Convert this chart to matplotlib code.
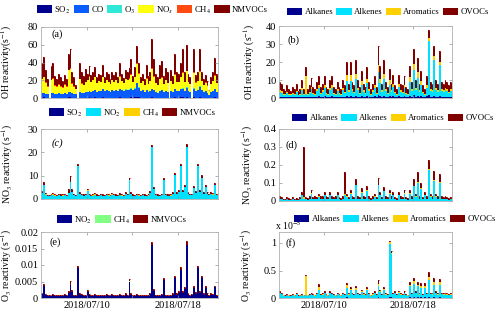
import numpy as np
import matplotlib
matplotlib.use('Agg')
import matplotlib.pyplot as plt
import matplotlib.dates as mdates
from matplotlib.patches import Patch
from matplotlib.ticker import FuncFormatter

plt.rcParams['font.family'] = 'Liberation Serif'
plt.rcParams['mathtext.fontset'] = 'stix'

# 4-hourly values from 2018/07/06 00:00, one row per day
START = np.datetime64('2018-07-06T00:00')
STEP_H = 4

# (a) OH reactivity, s-1
a_so2 = [0.5, 0.6, 0.5, 0.4, 0, 0.5,
         0.5, 0.4, 0.4, 0.5, 0.4, 0.4,
         0.5, 0.4, 0.6, 0.6, 0.5, 0.4,
         0.4, 0, 0.5, 0.5, 0.4, 0.5,
         0.5, 0.6, 0.5, 0.5, 0.6, 0.4,
         0.5, 0.5, 0.6, 0.4, 0.5, 0.5,
         0.4, 0.5, 0.5, 0.5, 0.4, 0.6,
         0.5, 0.4, 0.5, 0.5, 0.5, 0.6,
         0.5, 0.6, 0.8, 0.6, 0.4, 0.5,
         0.4, 0.5, 0.4, 0.5, 0.6, 0.5,
         0.4, 0.4, 0.5, 0.5, 0.4, 0.5,
         0.4, 0, 0.5, 0.4, 0.6, 0.5,
         0.5, 0.6, 0.7, 0.5, 0.7, 0.5,
         0.4, 0, 0.7, 0.5, 0.5, 0.7,
         0.5, 0.4, 0.5, 0.4, 0.3, 0.4,
         0.5, 0.6, 0.4]
a_co = [5, 5, 4, 4, 0, 5,
        5, 4, 4, 5, 4, 4,
        5, 4, 6, 6, 5, 4,
        4, 0, 6, 5, 5, 6,
        6, 7, 6, 7, 8, 6,
        7, 7, 9, 7, 8, 7,
        6, 8, 7, 8, 7, 9,
        8, 7, 9, 8, 9, 10,
        8, 10, 16, 11, 7, 8,
        6, 8, 6, 7, 9, 8,
        6, 5, 7, 8, 6, 7,
        6, 0, 7, 6, 9, 7,
        7, 9, 10, 7, 11, 7,
        6, 0, 10, 7, 8, 12,
        8, 6, 7, 5, 3, 6,
        7, 9, 6]
a_o3 = [0.4, 0.5, 0.4, 0.3, 0, 0.4,
        0.4, 0.3, 0.3, 0.4, 0.3, 0.3,
        0.4, 0.3, 0.5, 0.5, 0.4, 0.3,
        0.3, 0, 0.4, 0.4, 0.3, 0.4,
        0.4, 0.5, 0.4, 0.4, 0.5, 0.3,
        0.4, 0.4, 0.5, 0.3, 0.4, 0.4,
        0.3, 0.4, 0.4, 0.4, 0.3, 0.5,
        0.4, 0.3, 0.4, 0.4, 0.4, 0.5,
        0.4, 0.5, 0.6, 0.5, 0.3, 0.4,
        0.3, 0.4, 0.3, 0.4, 0.5, 0.4,
        0.3, 0.3, 0.4, 0.4, 0.3, 0.4,
        0.3, 0, 0.4, 0.3, 0.5, 0.4,
        0.4, 0.5, 0.5, 0.4, 0.5, 0.4,
        0.3, 0, 0.5, 0.4, 0.4, 0.5,
        0.4, 0.3, 0.4, 0.3, 0.2, 0.3,
        0.4, 0.5, 0.3]
a_nox = [15, 17, 12, 8, 0, 14,
         16, 9, 8, 9, 8, 7,
         9, 8, 24, 26, 10, 8,
         5, 0, 14, 10, 9, 11,
         13, 16, 11, 12, 14, 10,
         11, 10, 13, 9, 11, 10,
         9, 11, 10, 11, 9, 14,
         10, 9, 11, 11, 12, 15,
         9, 12, 21, 15, 9, 10,
         8, 13, 9, 11, 23, 15,
         10, 9, 13, 14, 9, 12,
         10, 0, 11, 9, 16, 10,
         10, 13, 17, 10, 18, 10,
         9, 0, 17, 9, 10, 16,
         10, 8, 9, 8, 5, 9,
         11, 15, 10]
a_ch4 = [0.6, 0.7, 0.6, 0.5, 0, 0.6,
         0.6, 0.5, 0.5, 0.6, 0.5, 0.5,
         0.6, 0.5, 0.7, 0.7, 0.6, 0.5,
         0.5, 0, 0.6, 0.6, 0.5, 0.6,
         0.6, 0.7, 0.6, 0.6, 0.7, 0.5,
         0.6, 0.6, 0.7, 0.5, 0.6, 0.6,
         0.5, 0.6, 0.6, 0.6, 0.5, 0.7,
         0.6, 0.5, 0.6, 0.6, 0.6, 0.7,
         0.6, 0.7, 0.8, 0.7, 0.5, 0.6,
         0.5, 0.6, 0.5, 0.6, 0.7, 0.6,
         0.5, 0.5, 0.6, 0.6, 0.5, 0.6,
         0.5, 0, 0.6, 0.5, 0.7, 0.6,
         0.6, 0.7, 0.7, 0.6, 0.7, 0.6,
         0.5, 0, 0.7, 0.6, 0.6, 0.7,
         0.6, 0.5, 0.6, 0.5, 0.4, 0.5,
         0.6, 0.7, 0.5]
a_nmvoc = [18, 22, 14, 8, 0, 15,
           17, 11, 8, 11, 10, 7,
           10, 8, 18, 21, 13, 10,
           5, 0, 18, 13, 10, 14,
           7, 11, 7, 9, 11, 6,
           8, 7, 13, 6, 9, 8,
           5, 9, 7, 9, 7, 15,
           7, 5, 10, 9, 11, 17,
           6, 11, 19, 12, 6, 8,
           6, 15, 9, 10, 33, 20,
           10, 8, 16, 18, 9, 13,
           12, 0, 12, 9, 23, 11,
           9, 16, 26, 11, 29, 9,
           7, 0, 26, 8, 10, 25,
           10, 6, 8, 5, 0.5, 7,
           10, 19, 10]

# (b) OH reactivity of VOC groups, s-1
b_alkanes = [0.8, 0.7, 0.5, 0.5, 0.6, 0.5,
             0.5, 0.6, 0.5, 0.7, 0.4, 0.5,
             0.8, 0.5, 0.6, 0.5, 0.6, 0.8,
             0.5, 0.5, 0.7, 0.9, 0.5, 0.7,
             0.9, 0.5, 0.5, 0.8, 0.9, 0.5,
             0.5, 0.7, 0.5, 0.5, 0.8, 0.6,
             1.2, 0.7, 1.2, 0.7, 0.6, 1.3,
             0.8, 0.5, 1.0, 0.7, 0.5, 1.1,
             0.7, 0.5, 0.7, 0.9, 0.5, 1.5,
             1.1, 0.7, 1.3, 0.7, 0.5, 1.0,
             0.7, 0.9, 0.6, 0.5, 0.9, 0.7,
             0.6, 0.9, 0.5, 0.5, 1.1, 0.7,
             1.4, 0.8, 1.3, 0.7, 1.0, 0.6,
             0.5, 0.9, 1.5, 0.7, 0.7, 1.2,
             0.8, 0.7, 1.1, 0.7, 0.7, 0.8,
             0.7, 0.6, 0.7]
b_alkenes = [2.5, 2, 1.2, 1, 2, 1.3,
             1, 1.6, 1.2, 2.4, 1, 1.3,
             3.5, 1.2, 1.8, 1.2, 2, 4,
             1.6, 1.2, 3, 4.5, 1.6, 2.5,
             4.5, 1.6, 1.2, 3.5, 4.5, 1.6,
             1.2, 3, 1.6, 1.2, 3.5, 2,
             8, 2.5, 8.5, 3, 2, 9,
             3.5, 1.6, 6, 2.5, 1.6, 7,
             3, 1.2, 2.5, 4.5, 1.6, 13,
             7, 2.5, 9, 3, 1.6, 6.5,
             2.5, 5, 2, 1.2, 5, 2.5,
             2, 4.5, 1.6, 1.2, 8, 3,
             14, 3.5, 10, 2.5, 6, 2,
             1.2, 4.5, 30, 3, 2.5, 20,
             3.5, 2.5, 17, 3, 2.5, 3.5,
             3, 2, 3]
b_aromatics = [1.2, 1, 0.7, 0.5, 0.9, 0.7,
               0.5, 0.8, 0.7, 1, 0.5, 0.6,
               1.5, 0.7, 10, 0.7, 1, 1.5,
               0.8, 0.7, 1.3, 1.8, 0.8, 1.1,
               1.8, 0.8, 0.7, 1.5, 1.8, 0.8,
               0.7, 1.3, 0.8, 0.7, 1.5, 1,
               3.5, 1.1, 3, 1.3, 1, 3,
               1.5, 0.8, 2.2, 1.1, 0.8, 2.5,
               1.3, 0.7, 1.1, 1.8, 0.8, 4,
               2.6, 1.1, 3, 1.3, 0.8, 2.3,
               1.1, 2, 1, 0.7, 2, 1.1,
               1, 1.8, 0.8, 0.7, 2.4, 1.3,
               3.5, 1.5, 3, 1.1, 2.2, 1,
               0.7, 1.8, 2, 1.3, 1.1, 2,
               1.5, 1.1, 2, 1.3, 1.1, 1.5,
               1.3, 1, 1.3]
b_ovocs = [4.5, 4.3, 2.6, 2, 3.5, 2.5,
           2, 3, 2.6, 3.9, 2.1, 2.6,
           4.2, 2.6, 4.6, 2.6, 3.4, 4.7,
           3.1, 2.6, 4, 4.8, 3.1, 3.7,
           4.8, 3.1, 2.6, 4.2, 4.8, 3.1,
           2.6, 4, 3.1, 2.6, 4.2, 3.4,
           7.3, 3.7, 7.3, 4, 3.4, 7.7,
           4.2, 3.1, 5.8, 3.7, 3.1, 6.4,
           4, 2.6, 3.7, 4.8, 3.1, 10.5,
           7.3, 3.7, 7.7, 4, 3.1, 6.2,
           3.7, 5.1, 3.4, 2.6, 5.1, 3.7,
           3.4, 4.8, 3.1, 2.6, 6.5, 4,
           8.1, 4.2, 7.7, 3.7, 5.8, 3.4,
           2.6, 4.8, 4.5, 4, 3.7, 5.8,
           4.2, 3.7, 5.9, 4, 3.7, 4.2,
           4, 3.4, 4]

# (c) NO3 reactivity, s-1
c_so2 = [0.1, 0.15, 0.1, 0.1, 0.1, 0.1,
         0.1, 0.1, 0.1, 0.1, 0.1, 0.1,
         0.1, 0.1, 0.1, 0.15, 0.1, 0.1,
         0.1, 0.15, 0.1, 0.1, 0.1, 0.1,
         0.1, 0.1, 0.1, 0.1, 0.1, 0.1,
         0.1, 0.1, 0.1, 0.1, 0.1, 0.1,
         0.1, 0.1, 0.1, 0.1, 0.1, 0.1,
         0.1, 0.1, 0.1, 0.1, 0.15, 0.1,
         0.1, 0.1, 0.1, 0.1, 0.1, 0.1,
         0.1, 0.1, 0.1, 0.1, 0.2, 0.1,
         0.1, 0.1, 0.1, 0.1, 0.15, 0.1,
         0.1, 0.1, 0.1, 0.1, 0.15, 0.1,
         0.1, 0.15, 0.1, 0.1, 0.2, 0.1,
         0.1, 0.1, 0.1, 0.1, 0.15, 0.1,
         0.15, 0.1, 0.1, 0.1, 0.1, 0.1,
         0.1, 0.1, 0.1]
c_no2 = [2.5, 6, 1.8, 1.2, 1.0, 1.5,
         1.8, 1.4, 1.2, 1.5, 1.3, 1.4,
         1.6, 1.2, 2.5, 7, 3, 1.5,
         1.2, 14, 2, 1.6, 1.3, 1.5,
         3.5, 1.6, 1.2, 1.4, 1.8, 1.3,
         1.2, 1.5, 1.3, 1.2, 1.6, 1.4,
         1.2, 1.8, 1.5, 1.3, 1.2, 1.6,
         1.4, 1.2, 2, 1.5, 8, 2,
         1.3, 1.2, 1.6, 1.4, 1.2, 1.5,
         1.3, 1.2, 1.4, 2.5, 22, 4,
         1.5, 1.3, 1.2, 1.6, 8, 1.5,
         1.3, 1.3, 1.4, 2, 10, 2,
         3, 14, 3, 5, 22, 2,
         1.5, 1.6, 4.5, 2.5, 14, 3,
         9, 2, 5, 2, 1.5, 2,
         1.8, 6, 1.5]
c_ch4 = [0.05, 0.05, 0.05, 0.04, 0.04, 0.05,
         0.05, 0.05, 0.04, 0.05, 0.04, 0.05,
         0.05, 0.04, 0.05, 0.05, 0.05, 0.05,
         0.04, 0.05, 0.05, 0.05, 0.04, 0.05,
         0.05, 0.05, 0.04, 0.05, 0.05, 0.04,
         0.04, 0.05, 0.04, 0.04, 0.05, 0.05,
         0.04, 0.05, 0.05, 0.04, 0.04, 0.05,
         0.05, 0.04, 0.05, 0.05, 0.05, 0.05,
         0.04, 0.04, 0.05, 0.05, 0.04, 0.05,
         0.04, 0.04, 0.05, 0.05, 0.05, 0.05,
         0.05, 0.04, 0.04, 0.05, 0.05, 0.05,
         0.04, 0.04, 0.05, 0.05, 0.05, 0.05,
         0.05, 0.05, 0.05, 0.05, 0.05, 0.05,
         0.04, 0.05, 0.05, 0.05, 0.05, 0.05,
         0.05, 0.05, 0.05, 0.05, 0.04, 0.05,
         0.05, 0.05, 0.04]
c_nmvoc = [0.8, 1, 0.6, 0.5, 0.5, 0.6,
           0.7, 0.6, 0.5, 0.6, 0.5, 0.6,
           0.6, 0.5, 1.5, 2.5, 1.2, 0.6,
           0.5, 0.6, 0.7, 0.6, 0.5, 0.6,
           0.8, 0.6, 0.5, 0.6, 0.7, 0.5,
           0.5, 0.6, 0.5, 0.5, 0.6, 0.6,
           0.5, 0.7, 0.6, 0.5, 0.5, 0.7,
           0.6, 0.5, 0.7, 0.6, 0.8, 0.7,
           0.5, 0.5, 0.6, 0.6, 0.5, 0.6,
           0.5, 0.5, 0.6, 0.8, 1, 0.8,
           0.6, 0.5, 0.5, 0.6, 0.8, 0.6,
           0.5, 0.5, 0.6, 0.7, 1, 0.7,
           0.8, 1, 0.8, 0.9, 1.2, 0.7,
           0.6, 0.6, 1, 0.8, 1, 0.8,
           1, 0.7, 0.9, 0.7, 0.6, 0.7,
           0.6, 0.8, 0.6]

# (d) NO3 reactivity of VOC groups, s-1
d_alkanes = [0.0006, 0.0005, 0.0003, 0.0003, 0.0005, 0.0004,
             0.0003, 0.0005, 0.0003, 0.0004, 0.0003, 0.0005,
             0.0008, 0.002, 0.0005, 0.0004, 0.0006, 0.001,
             0.0005, 0.0005, 0.0005, 0.0007, 0.0005, 0.0006,
             0.0008, 0.0005, 0.0005, 0.0008, 0.0006, 0.0005,
             0.0005, 0.0008, 0.0005, 0.0004, 0.0006, 0.002,
             0.0007, 0.0005, 0.0009, 0.0006, 0.0005, 0.0015,
             0.0006, 0.0005, 0.001, 0.0006, 0.0005, 0.0012,
             0.0006, 0.0004, 0.0006, 0.0007, 0.0005, 0.0015,
             0.0008, 0.0005, 0.0012, 0.0006, 0.0005, 0.0009,
             0.0006, 0.0008, 0.0005, 0.0004, 0.0008, 0.0006,
             0.0005, 0.0009, 0.0005, 0.0004, 0.0009, 0.0006,
             0.0015, 0.0007, 0.002, 0.0006, 0.0012, 0.0005,
             0.0008, 0.0006, 0.0025, 0.0007, 0.0006, 0.002,
             0.0007, 0.0006, 0.002, 0.0006, 0.0005, 0.0006,
             0.0005, 0.0004, 0.0005]
d_alkenes = [0.012, 0.008, 0.005, 0.004, 0.008, 0.006,
             0.005, 0.008, 0.004, 0.006, 0.005, 0.008,
             0.03, 0.01, 0.008, 0.006, 0.012, 0.038,
             0.008, 0.01, 0.008, 0.024, 0.01, 0.012,
             0.032, 0.01, 0.008, 0.032, 0.012, 0.008,
             0.01, 0.032, 0.008, 0.006, 0.012, 0.03,
             0.024, 0.008, 0.039, 0.012, 0.008, 0.085,
             0.012, 0.008, 0.046, 0.012, 0.008, 0.055,
             0.012, 0.006, 0.012, 0.024, 0.008, 0.085,
             0.032, 0.008, 0.052, 0.012, 0.008, 0.039,
             0.012, 0.032, 0.008, 0.006, 0.032, 0.012,
             0.008, 0.039, 0.008, 0.006, 0.039, 0.012,
             0.08, 0.024, 0.1, 0.012, 0.065, 0.008,
             0.032, 0.012, 0.17, 0.024, 0.012, 0.11,
             0.024, 0.012, 0.1, 0.012, 0.008, 0.012,
             0.008, 0.006, 0.008]
d_aromatics = [0.001, 0.0008, 0.0005, 0.0004, 0.0008, 0.0006,
               0.0005, 0.0008, 0.0004, 0.0006, 0.0005, 0.0008,
               0.002, 0.008, 0.0008, 0.0006, 0.001, 0.003,
               0.0008, 0.001, 0.0008, 0.002, 0.001, 0.001,
               0.002, 0.001, 0.0008, 0.002, 0.001, 0.0008,
               0.001, 0.002, 0.0008, 0.0006, 0.001, 0.008,
               0.002, 0.0008, 0.003, 0.001, 0.0008, 0.004,
               0.001, 0.0008, 0.003, 0.001, 0.0008, 0.003,
               0.001, 0.0006, 0.001, 0.002, 0.0008, 0.004,
               0.002, 0.0008, 0.003, 0.001, 0.0008, 0.002,
               0.001, 0.002, 0.0008, 0.0006, 0.002, 0.001,
               0.0008, 0.002, 0.0008, 0.0006, 0.002, 0.001,
               0.004, 0.002, 0.006, 0.001, 0.004, 0.0008,
               0.002, 0.001, 0.008, 0.002, 0.001, 0.006,
               0.002, 0.001, 0.005, 0.001, 0.0008, 0.001,
               0.0008, 0.0006, 0.0008]
d_ovocs = [0.016, 0.011, 0.006, 0.005, 0.011, 0.008,
           0.006, 0.011, 0.005, 0.008, 0.006, 0.011,
           0.017, 0.28, 0.011, 0.008, 0.016, 0.018,
           0.011, 0.014, 0.011, 0.014, 0.014, 0.016,
           0.015, 0.014, 0.011, 0.015, 0.016, 0.011,
           0.014, 0.015, 0.011, 0.008, 0.016, 0.12,
           0.014, 0.011, 0.018, 0.016, 0.011, 0.03,
           0.016, 0.011, 0.021, 0.016, 0.011, 0.022,
           0.016, 0.008, 0.016, 0.014, 0.011, 0.04,
           0.015, 0.011, 0.024, 0.016, 0.011, 0.018,
           0.016, 0.015, 0.011, 0.008, 0.015, 0.016,
           0.011, 0.018, 0.011, 0.008, 0.018, 0.016,
           0.035, 0.014, 0.052, 0.016, 0.03, 0.011,
           0.015, 0.016, 0.05, 0.014, 0.016, 0.05,
           0.014, 0.016, 0.045, 0.016, 0.011, 0.016,
           0.011, 0.008, 0.011]

# (e) O3 reactivity, s-1
e_no2 = [0.0012, 0.0035, 0.0008, 0.0006, 0.0005, 0.0007,
         0.0008, 0.0007, 0.0006, 0.0007, 0.0006, 0.0007,
         0.0008, 0.0006, 0.0015, 0.004, 0.0018, 0.0007,
         0.0006, 0.0092, 0.001, 0.0008, 0.0006, 0.0007,
         0.0018, 0.0008, 0.0006, 0.0007, 0.0009, 0.0006,
         0.0006, 0.0007, 0.0006, 0.0006, 0.0008, 0.0007,
         0.0006, 0.0009, 0.0007, 0.0006, 0.0006, 0.0008,
         0.0007, 0.0006, 0.001, 0.0007, 0.005, 0.001,
         0.0006, 0.0006, 0.0008, 0.0007, 0.0006, 0.0007,
         0.0006, 0.0006, 0.0007, 0.0012, 0.016, 0.0022,
         0.0007, 0.0006, 0.0006, 0.0008, 0.0055, 0.0007,
         0.0006, 0.0006, 0.0007, 0.001, 0.006, 0.001,
         0.0015, 0.0085, 0.0015, 0.0028, 0.016, 0.001,
         0.0007, 0.0008, 0.003, 0.0013, 0.009, 0.0015,
         0.006, 0.001, 0.003, 0.001, 0.0007, 0.001,
         0.0009, 0.0032, 0.0007]
e_ch4 = [0.00003, 0.00003, 0.00002, 0.00002, 0.00002, 0.00003,
         0.00003, 0.00002, 0.00002, 0.00003, 0.00002, 0.00002,
         0.00003, 0.00002, 0.00003, 0.00003, 0.00003, 0.00002,
         0.00002, 0.00003, 0.00003, 0.00003, 0.00002, 0.00003,
         0.00003, 0.00003, 0.00002, 0.00003, 0.00003, 0.00002,
         0.00002, 0.00003, 0.00002, 0.00002, 0.00003, 0.00003,
         0.00002, 0.00003, 0.00003, 0.00002, 0.00002, 0.00003,
         0.00003, 0.00002, 0.00003, 0.00003, 0.00003, 0.00003,
         0.00002, 0.00002, 0.00003, 0.00003, 0.00002, 0.00003,
         0.00002, 0.00002, 0.00003, 0.00003, 0.00003, 0.00003,
         0.00003, 0.00002, 0.00002, 0.00003, 0.00003, 0.00003,
         0.00002, 0.00002, 0.00003, 0.00003, 0.00003, 0.00003,
         0.00003, 0.00003, 0.00003, 0.00003, 0.00003, 0.00003,
         0.00002, 0.00003, 0.00003, 0.00003, 0.00003, 0.00003,
         0.00003, 0.00003, 0.00003, 0.00003, 0.00002, 0.00003,
         0.00003, 0.00003, 0.00002]
e_nmvoc = [0.0004, 0.0006, 0.0003, 0.0003, 0.0003, 0.0003,
           0.0004, 0.0003, 0.0003, 0.0003, 0.0003, 0.0003,
           0.0003, 0.0003, 0.0007, 0.001, 0.0006, 0.0003,
           0.0003, 0.0005, 0.0004, 0.0003, 0.0003, 0.0003,
           0.0005, 0.0003, 0.0003, 0.0003, 0.0004, 0.0003,
           0.0003, 0.0003, 0.0003, 0.0003, 0.0003, 0.0003,
           0.0003, 0.0004, 0.0003, 0.0003, 0.0003, 0.0004,
           0.0003, 0.0003, 0.0004, 0.0003, 0.0006, 0.0004,
           0.0003, 0.0003, 0.0003, 0.0003, 0.0003, 0.0003,
           0.0003, 0.0003, 0.0003, 0.0004, 0.001, 0.0006,
           0.0003, 0.0003, 0.0003, 0.0003, 0.0006, 0.0003,
           0.0003, 0.0003, 0.0003, 0.0004, 0.0007, 0.0004,
           0.0005, 0.0008, 0.0005, 0.0006, 0.0012, 0.0004,
           0.0003, 0.0003, 0.0005, 0.0004, 0.0008, 0.0005,
           0.0007, 0.0004, 0.0005, 0.0004, 0.0003, 0.0004,
           0.0003, 0.0005, 0.0003]

# (f) O3 reactivity of VOC groups, 1e-5 s-1
f_alkanes = [0.005, 0.004, 0.003, 0.002, 0.003, 0.003,
             0.002, 0.003, 0.003, 0.004, 0.002, 0.003,
             0.003, 0.003, 0.008, 0.003, 0.003, 0.004,
             0.003, 0.003, 0.004, 0.008, 0.003, 0.004,
             0.005, 0.003, 0.003, 0.005, 0.004, 0.003,
             0.003, 0.004, 0.003, 0.003, 0.004, 0.003,
             0.01, 0.004, 0.008, 0.004, 0.003, 0.009,
             0.004, 0.003, 0.006, 0.004, 0.003, 0.008,
             0.004, 0.003, 0.004, 0.005, 0.003, 0.012,
             0.006, 0.003, 0.008, 0.004, 0.003, 0.02,
             0.015, 0.004, 0.005, 0.003, 0.005, 0.004,
             0.003, 0.005, 0.003, 0.003, 0.01, 0.004,
             0.012, 0.005, 0.01, 0.004, 0.01, 0.003,
             0.01, 0.004, 0.015, 0.004, 0.004, 0.012,
             0.005, 0.004, 0.012, 0.004, 0.004, 0.004,
             0.004, 0.003, 0.004]
f_alkenes = [0.08, 0.065, 0.04, 0.032, 0.052, 0.04,
             0.032, 0.045, 0.04, 0.065, 0.032, 0.04,
             0.052, 0.04, 0.05, 0.04, 0.045, 0.065,
             0.045, 0.04, 0.065, 0.14, 0.045, 0.058,
             0.08, 0.045, 0.04, 0.08, 0.065, 0.045,
             0.04, 0.065, 0.045, 0.04, 0.065, 0.052,
             0.18, 0.058, 0.13, 0.065, 0.052, 0.14,
             0.065, 0.045, 0.1, 0.058, 0.045, 0.13,
             0.065, 0.04, 0.058, 0.08, 0.045, 0.21,
             0.1, 0.052, 0.13, 0.058, 0.045, 0.96,
             0.79, 0.065, 0.08, 0.045, 0.085, 0.058,
             0.052, 0.08, 0.045, 0.04, 0.2, 0.065,
             0.24, 0.08, 0.2, 0.058, 0.18, 0.052,
             0.18, 0.065, 0.31, 0.065, 0.058, 0.23,
             0.08, 0.058, 0.23, 0.065, 0.058, 0.065,
             0.058, 0.045, 0.058]
f_aromatics = [0.01, 0.01, 0.006, 0.005, 0.008, 0.006,
               0.005, 0.007, 0.006, 0.01, 0.005, 0.006,
               0.008, 0.006, 0.34, 0.006, 0.007, 0.01,
               0.007, 0.006, 0.01, 0.05, 0.007, 0.009,
               0.01, 0.007, 0.006, 0.01, 0.01, 0.007,
               0.006, 0.01, 0.007, 0.006, 0.01, 0.008,
               0.04, 0.009, 0.02, 0.01, 0.008, 0.025,
               0.01, 0.007, 0.015, 0.009, 0.007, 0.02,
               0.01, 0.006, 0.009, 0.01, 0.007, 0.04,
               0.015, 0.008, 0.02, 0.009, 0.007, 0.03,
               0.02, 0.01, 0.01, 0.007, 0.013, 0.009,
               0.008, 0.01, 0.007, 0.006, 0.03, 0.01,
               0.05, 0.01, 0.03, 0.009, 0.035, 0.008,
               0.03, 0.01, 0.05, 0.01, 0.009, 0.05,
               0.01, 0.009, 0.04, 0.01, 0.009, 0.01,
               0.009, 0.007, 0.009]
f_ovocs = [0.025, 0.02, 0.012, 0.01, 0.016, 0.012,
           0.01, 0.014, 0.012, 0.02, 0.01, 0.012,
           0.016, 0.012, 0.02, 0.012, 0.014, 0.02,
           0.014, 0.012, 0.02, 0.05, 0.014, 0.018,
           0.025, 0.014, 0.012, 0.025, 0.02, 0.014,
           0.012, 0.02, 0.014, 0.012, 0.02, 0.016,
           0.05, 0.018, 0.04, 0.02, 0.016, 0.045,
           0.02, 0.014, 0.03, 0.018, 0.014, 0.04,
           0.02, 0.012, 0.018, 0.025, 0.014, 0.06,
           0.03, 0.016, 0.04, 0.018, 0.014, 0.03,
           0.03, 0.02, 0.025, 0.014, 0.026, 0.018,
           0.016, 0.025, 0.014, 0.012, 0.06, 0.02,
           0.07, 0.025, 0.06, 0.018, 0.055, 0.016,
           0.05, 0.02, 0.1, 0.02, 0.018, 0.07,
           0.025, 0.018, 0.07, 0.02, 0.018, 0.02,
           0.018, 0.014, 0.018]

VOC_LABELS = ['Alkanes', 'Alkenes', 'Aromatics', 'OVOCs']
VOC_COLORS = ['#00008f', '#00e0ff', '#ffd000', '#800000']

W, H = 500, 316
fig = plt.figure(figsize=(W / 100, H / 100), dpi=100)

t = START + np.arange(len(a_co)) * np.timedelta64(STEP_H, 'h')
x = mdates.date2num(t)
bar_w = STEP_H / 24
xmin = mdates.date2num(np.datetime64('2018-07-06T00:00'))
xmax = mdates.date2num(np.datetime64('2018-07-21T12:00'))
tick_days = ['2018-07-10', '2018-07-14', '2018-07-18']
xt = mdates.date2num(np.array(tick_days, dtype='datetime64[m]'))


def make_ax(left, top, right, bottom):
    return fig.add_axes([left / W, 1 - bottom / H, (right - left) / W, (bottom - top) / H])


def draw_panel(ax, series, colors, labels, ylim, yticks, ylabel, ylab_x,
               tag, tag_xy, leg_xy, bottom_row=False, tag_style='normal'):
    base = np.zeros(len(x))
    for s, c in zip(series, colors):
        s = np.asarray(s, float)
        ax.bar(x, s, width=bar_w, bottom=base, color=c, linewidth=0, align='edge')
        base = base + s
    tops = np.where(base > 0, base, np.nan)
    ax.plot(x + bar_w / 2, tops, '.', color='#d05050', ms=1.8, alpha=0.75, mec='none')

    ax.set_xlim(xmin, xmax)
    ax.set_ylim(*ylim)
    ax.set_yticks(yticks)
    ax.yaxis.set_major_formatter(FuncFormatter(lambda v, p: '%g' % v))
    ax.set_xticks(xt)
    if bottom_row:
        ax.set_xticklabels(['2018/07/10', '', '2018/07/18'])
    else:
        ax.set_xticklabels([])
    for sp in ax.spines.values():
        sp.set_color('#b0b0b0')
        sp.set_linewidth(0.6)
    ax.tick_params(direction='in', length=2.5, width=0.5, color='#909090',
                   labelsize=7.5, top=True, right=True, pad=2)
    ax.set_ylabel(ylabel, fontsize=7)
    ax.yaxis.set_label_coords(ylab_x, 0.5)
    ax.text(tag_xy[0], tag_xy[1], tag, transform=ax.transAxes, fontsize=7.5,
            va='center', ha='left', style=tag_style)

    handles = [Patch(facecolor=c, edgecolor='none') for c in colors]
    fig.legend(handles, labels, ncol=len(labels), loc='center left',
               bbox_to_anchor=(leg_xy[0] / W, 1 - leg_xy[1] / H), frameon=False,
               fontsize=6.3, handlelength=1.75, handleheight=1.0, handletextpad=0.25,
               columnspacing=0.35, borderpad=0, borderaxespad=0)


ax_a = make_ax(41, 27, 218, 98)
draw_panel(ax_a, [a_so2, a_co, a_o3, a_nox, a_ch4, a_nmvoc],
           ['#00008f', '#0a5cff', '#30e8d8', '#ffff10', '#ff4a10', '#800000'],
           ['SO$_2$', 'CO', 'O$_3$', 'NO$_x$', 'CH$_4$', 'NMVOCs'],
           (0, 80), [0, 20, 40, 60, 80], 'OH reactivity(s$^{-1}$)', -0.153,
           '(a)', (0.06, 0.9), (37, 10))

ax_b = make_ax(279, 26, 452, 98)
draw_panel(ax_b, [b_alkanes, b_alkenes, b_aromatics, b_ovocs], VOC_COLORS, VOC_LABELS,
           (0, 40), [0, 10, 20, 30, 40], 'OH reactivity (s$^{-1}$)', -0.127,
           '(b)', (0.05, 0.8), (287, 12))

ax_c = make_ax(41, 129, 218, 199)
draw_panel(ax_c, [c_so2, c_no2, c_ch4, c_nmvoc],
           ['#00008f', '#00e0ff', '#ffd000', '#800000'],
           ['SO$_2$', 'NO$_2$', 'CH$_4$', 'NMVOCs'],
           (0, 30), [0, 10, 20, 30], 'NO$_3$ reactivity (s$^{-1}$)', -0.147,
           '(c)', (0.06, 0.8), (49, 113), tag_style='italic')

ax_d = make_ax(279, 129, 452, 201)
draw_panel(ax_d, [d_alkanes, d_alkenes, d_aromatics, d_ovocs], VOC_COLORS, VOC_LABELS,
           (0, 0.4), [0, 0.1, 0.2, 0.3, 0.4], 'NO$_3$ reactivity (s$^{-1}$)', -0.139,
           '(d)', (0.035, 0.78), (292, 118))

ax_e = make_ax(41, 232, 218, 298)
draw_panel(ax_e, [e_no2, e_ch4, e_nmvoc],
           ['#00008f', '#80ff80', '#800000'],
           ['NO$_2$', 'CH$_4$', 'NMVOCs'],
           (0, 0.02), [0, 0.005, 0.01, 0.015, 0.02], 'O$_3$ reactivity (s$^{-1}$)', -0.155,
           '(e)', (0.05, 0.85), (57, 220), bottom_row=True)

ax_f = make_ax(279, 232, 452, 298)
draw_panel(ax_f, [f_alkanes, f_alkenes, f_aromatics, f_ovocs], VOC_COLORS, VOC_LABELS,
           (0, 1.2), [0, 0.5, 1], 'O$_3$ reactivity (s$^{-1}$)', -0.145,
           '(f)', (0.035, 0.84), (294, 219), bottom_row=True)
fig.text(275 / W, 1 - 225 / H, 'x 10$^{-5}$', fontsize=7, va='center', ha='left')

fig.savefig('out.png', dpi=100)
